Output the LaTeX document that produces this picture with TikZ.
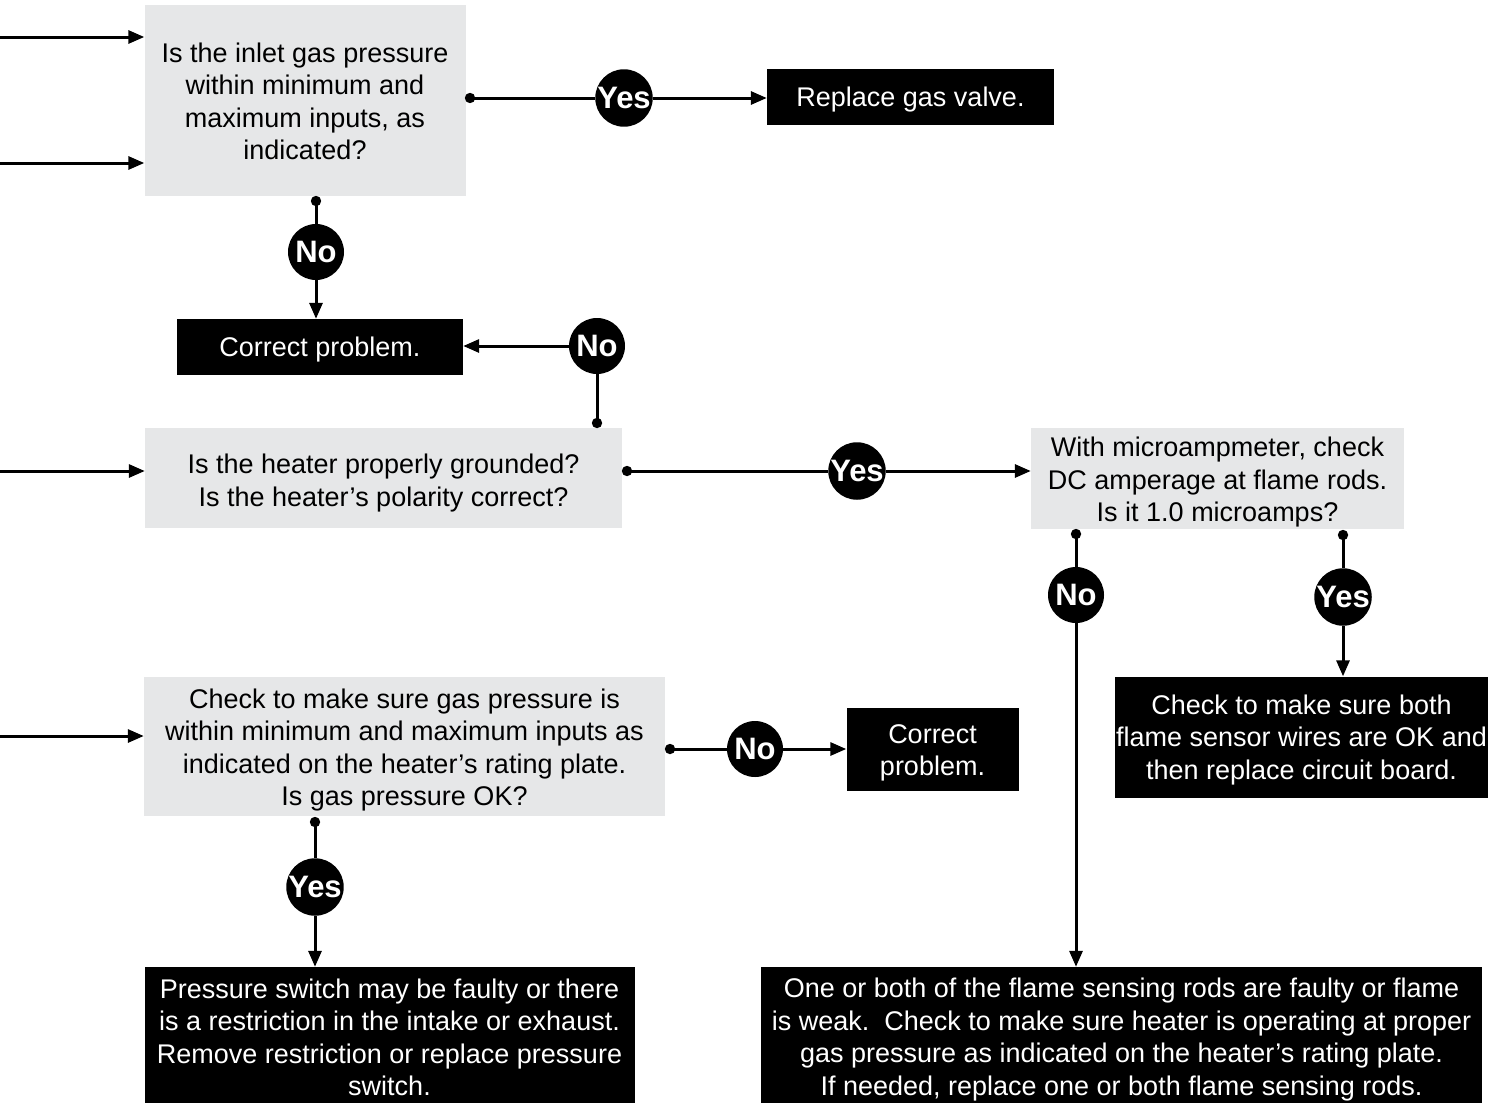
\documentclass[tikz,border=0pt]{standalone}
\usepackage{fontspec}
\setmainfont{Liberation Sans}
\usetikzlibrary{arrows.meta}
\definecolor{qgray}{HTML}{E6E7E8}
\tikzset{
  base/.style={rectangle, inner sep=0pt},
  qbox/.style={base, fill=qgray},
  abox/.style={base, fill=black},
  qtxt/.style={inner sep=0pt, align=center, text=black, font=\fontsize{27}{32.5}\selectfont},
  atxt/.style={qtxt, text=white},
  yn/.style={circle, fill=black, text=white, minimum size=56pt, inner sep=0pt,
             font=\bfseries\fontsize{31}{31}\selectfont},
  conn/.style={line width=3pt, black},
  arr/.style={conn, -{Triangle[length=16pt,width=13pt]}},
}
\begin{document}
\begin{tikzpicture}[x=1pt,y=-1pt]
\useasboundingbox (0,0) rectangle (1493,1103);

% boxes
\node[qbox, minimum width=321pt, minimum height=191pt] (q1) at (305,100) {};
\node[qtxt] (q1t) at ([yshift=-1.5pt]q1.center)
  {Is the inlet gas pressure\\within minimum and\\maximum inputs, as\\indicated?};
\node[abox, minimum width=287pt, minimum height=56pt] (rep) at (910.5,97) {};
\node[atxt] (rept) at ([yshift=-3pt]rep.center) {Replace gas valve.};
\node[abox, minimum width=286pt, minimum height=56pt] (cp1) at (320,347) {};
\node[atxt] (cp1t) at ([yshift=-3pt]cp1.center) {Correct problem.};
\node[qbox, minimum width=477pt, minimum height=100pt] (q2) at (383.5,478) {};
\node[qtxt] (q2t) at ([yshift=-5pt]q2.center)
  {Is the heater properly grounded?\\Is the heater’s polarity correct?};
\node[qbox, minimum width=373pt, minimum height=101pt] (q3) at (1217.5,478.5) {};
\node[qtxt] (q3t) at ([yshift=-4pt]q3.center)
  {With microampmeter, check\\DC amperage at flame rods.\\Is it 1.0 microamps?};
\node[qbox, minimum width=521pt, minimum height=139pt] (q4) at (404.5,746.5) {};
\node[qtxt] (q4t) at ([yshift=-3.5pt]q4.center)
  {Check to make sure gas pressure is\\within minimum and maximum inputs as\\indicated on the heater’s rating plate.\\Is gas pressure OK?};
\node[abox, minimum width=172pt, minimum height=83pt] (cp2) at (932.5,749.5) {};
\node[atxt] (cp2t) at ([yshift=-3.5pt]cp2.center) {Correct\\problem.};
\node[abox, minimum width=373pt, minimum height=121pt] (rb) at (1301.5,737) {};
\node[atxt] (rbt) at ([yshift=-3pt]rb.center)
  {Check to make sure both\\flame sensor wires are OK and\\then replace circuit board.};
\node[abox, minimum width=490pt, minimum height=136pt] (bl) at (389.5,1035) {};
\node[atxt] (blt) at ([yshift=-2.5pt]bl.center)
  {Pressure switch may be faulty or there\\is a restriction in the intake or exhaust.\\Remove restriction or replace pressure\\switch.};
\node[abox, minimum width=721pt, minimum height=136pt] (br) at (1121.5,1035) {};
\node[atxt] (brt) at ([yshift=-4.5pt]br.center)
  {One or both of the flame sensing rods are faulty or flame\\is weak.\ \ Check to make sure heater is operating at proper\\gas pressure as indicated on the heater’s rating plate.\\If needed, replace one or both flame sensing rods.};

% decision circles
\node[yn] (y1) at (624,98) {Yes};
\node[yn] (n1) at (316,252) {No};
\node[yn] (n2) at (597,346) {No};
\node[yn] (y2) at (857,471) {Yes};
\node[yn] (n3) at (1076,595) {No};
\node[yn] (y3) at (1343,597) {Yes};
\node[yn] (n4) at (755,749) {No};
\node[yn] (y4) at (315,887) {Yes};

% dot anchors
\coordinate (d1) at (470,98);
\coordinate (d2) at (316,201);
\coordinate (d3) at (597,423);
\coordinate (d4) at (627,471);
\coordinate (d5) at (1076,534);
\coordinate (d6) at (1343,535);
\coordinate (d7) at (670,749);
\coordinate (d8) at (315,822);
\foreach \d in {d1,d2,d3,d4,d5,d6,d7,d8} \fill (\d) circle (5.2pt);

% incoming arrows from the left
\coordinate (i1) at (0,37);
\coordinate (i2) at (0,163);
\coordinate (i3) at (0,471);
\coordinate (i4) at (0,736);
\draw[arr] (i1) -- (i1 -| q1.west);
\draw[arr] (i2) -- (i2 -| q1.west);
\draw[arr] (i3) -- (i3 -| q2.west);
\draw[arr] (i4) -- (i4 -| q4.west);

% connectors
\draw[conn] (d1) -- (y1);
\draw[arr] (y1) -- (y1 -| rep.west);
\draw[conn] (d2) -- (n1);
\draw[arr] (n1) -- (n1 |- cp1.north);
\draw[conn] (d3) -- (n2);
\draw[arr] (n2) -- (n2 -| cp1.east);
\draw[conn] (d4) -- (y2);
\draw[arr] (y2) -- (y2 -| q3.west);
\draw[conn] (d5) -- (n3);
\draw[arr] (n3) -- (n3 |- br.north);
\draw[conn] (d6) -- (y3);
\draw[arr] (y3) -- (y3 |- rb.north);
\draw[conn] (d7) -- (n4);
\draw[arr] (n4) -- (n4 -| cp2.west);
\draw[conn] (d8) -- (y4);
\draw[arr] (y4) -- (y4 |- bl.north);
\end{tikzpicture}
\end{document}
